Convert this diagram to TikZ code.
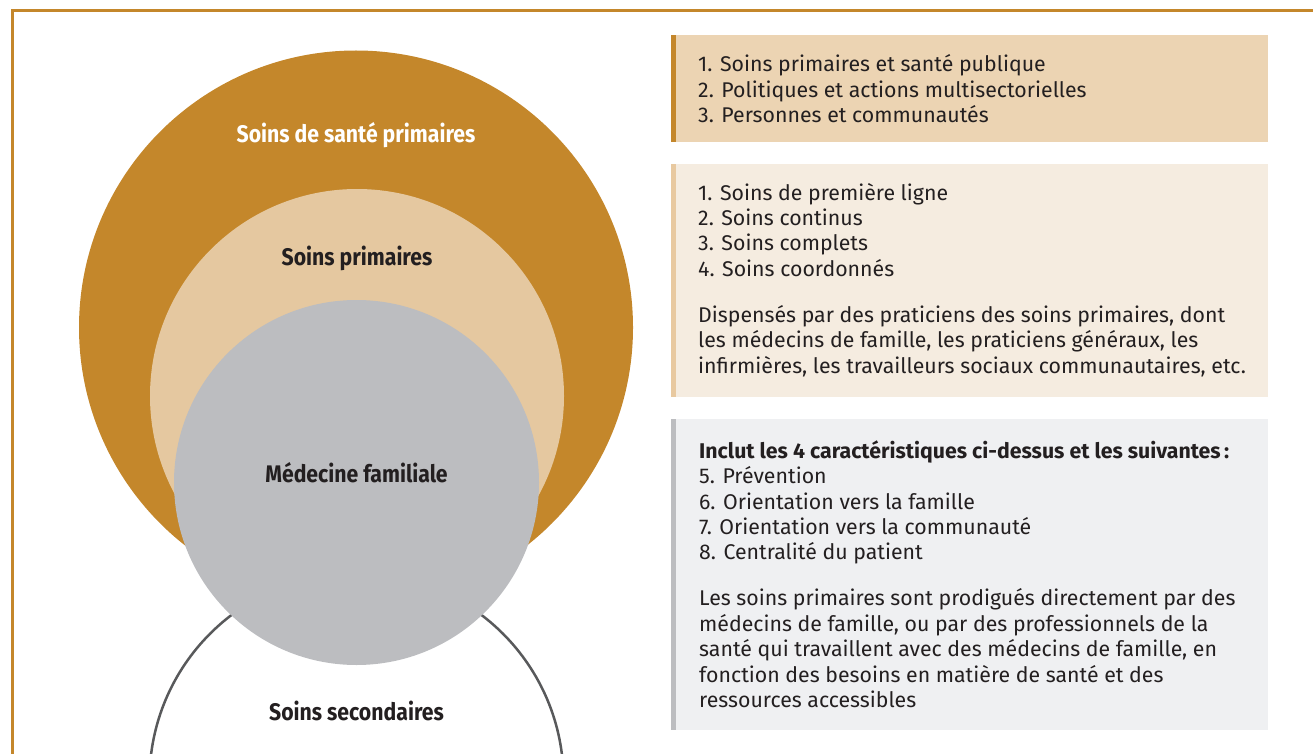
\documentclass[tikz,border=0pt]{standalone}
\usepackage{fontspec}
\setmainfont{Fira Sans}
\newfontfamily\condfont[FakeStretch=0.885]{Fira Sans}
\usepackage{xcolor}
\usetikzlibrary{positioning}
\definecolor{ochre}{HTML}{C4872B}
\definecolor{sand}{HTML}{E5C8A0}
\definecolor{stone}{HTML}{BCBDC0}
\definecolor{ink}{HTML}{231F20}
\definecolor{rim}{HTML}{58595B}
\definecolor{boxa}{HTML}{ECD4B3}
\definecolor{boxb}{HTML}{F5ECE0}
\definecolor{boxc}{HTML}{EFF0F2}
\definecolor{barb}{HTML}{E8C9A0}
\tikzset{
  ring/.style={circle, inner sep=0pt, draw=none},
  ringlab/.style={text=ink, anchor=base, inner sep=0pt, font=\condfont\bfseries\fontsize{24}{28}\selectfont},
  panel/.style={rectangle, inner sep=0pt, draw=none, minimum width=597pt, anchor=north west},
  body/.style={text=ink, anchor=base west, inner sep=0pt, align=left, font=\fontsize{21.3}{25.4}\selectfont},
  frame/.style={draw=ochre, line width=2.5pt},
}

\begin{document}
\begin{tikzpicture}[x=1pt,y=-1pt]
  \useasboundingbox (0,0) rectangle (1313,754);
  \draw[frame] (12.5,754) -- (12.5,10.5) -- (1313,10.5);
  % circles
  \node[ring, fill=ochre, minimum size=554pt] (pha) at (356,327.5) {};
  \node[ring, fill=sand, minimum size=414pt] (pc) at (357,396) {};
  \node[ring, draw=rim, line width=2.5pt, minimum size=414pt] (sec) at (356.5,780) {};
  \node[ring, fill=stone, minimum size=365pt] (mf) at (356.5,482.5) {};
  \node[ringlab, text=white] (lpha) at (356,142.7) {Soins de santé primaires};
  \node[ringlab] (lpc) at (357,265.7) {Soins primaires};
  \node[ringlab] (lmf) at (356.5,482.7) {Médecine familiale};
  \node[ringlab] (lsec) at (356.5,720.7) {Soins secondaires};
  % panels
  \node[panel, fill=boxa, minimum height=107pt] (pa) at (671,35) {};
  \fill[ochre] (pa.north west) rectangle ([xshift=5pt]pa.south west);
  \node[panel, fill=boxb, minimum height=233pt] (pb) at (671,164) {};
  \fill[barb] (pb.north west) rectangle ([xshift=5pt]pb.south west);
  \node[panel, fill=boxc, minimum height=311pt] (pcc) at (671,419) {};
  \fill[stone] (pcc.north west) rectangle ([xshift=5pt]pcc.south west);
  % texts, anchored on their last line
  \node[body] (ta) at (698,122.5) {1. Soins primaires et santé publique\\
    2. Politiques et actions multisectorielles\\
    3. Personnes et communautés};
  \node[body] (tb) at (698,373) {1. Soins de première ligne\\
    2. Soins continus\\
    3. Soins complets\\
    4. Soins coordonnés\\[20.6pt]
    Dispensés par des praticiens des soins primaires, dont\\
    les médecins de famille, les praticiens généraux, les\\
    infirmières, les travailleurs sociaux communautaires, etc.};
  \node[body] (tc) at (699,707.5) {\textbf{Inclut les 4 caractéristiques ci-dessus et les suivantes\,:}\\
    5. Prévention\\
    6. Orientation vers la famille\\
    7. Orientation vers la communauté\\
    8. Centralité du patient\\[20.6pt]
    Les soins primaires sont prodigués directement par des\\
    médecins de famille, ou par des professionnels de la\\
    santé qui travaillent avec des médecins de famille, en\\
    fonction des besoins en matière de santé et des\\
    ressources accessibles};
\end{tikzpicture}
\end{document}
